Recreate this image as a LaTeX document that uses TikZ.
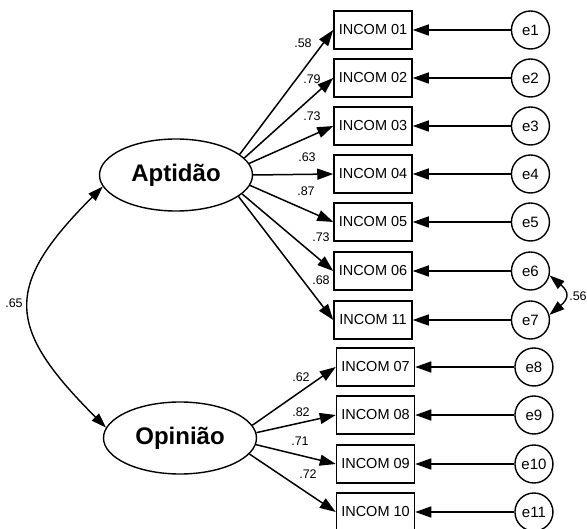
\documentclass[tikz,border=0pt]{standalone}
\usepackage{fontspec}
\setmainfont{Liberation Sans}
\usetikzlibrary{positioning,arrows.meta,shapes.geometric}
\tikzset{
  item/.style   = {rectangle, draw, line width=1.5pt,
                   minimum width=78pt, minimum height=38pt, inner sep=0pt,
                   font=\fontsize{14.5}{16}\selectfont},
  err/.style    = {circle, draw, line width=1.4pt,
                   minimum size=38pt, inner sep=0pt,
                   font=\fontsize{15}{16}\selectfont},
  factor/.style = {ellipse, draw, line width=1.4pt,
                   minimum width=153pt, minimum height=72pt,
                   font=\bfseries\fontsize{24}{26}\selectfont},
  arr/.style    = {-{Triangle[length=16pt,width=11pt]}, line width=1.5pt},
  dbl/.style    = {{Triangle[length=15pt,width=10pt]}-{Triangle[length=15pt,width=10pt]},
                   line width=1.4pt},
  lab/.style    = {font=\fontsize{12.5}{14}\selectfont, inner sep=0pt}
}

\begin{document}
\begin{tikzpicture}[x=1pt, y=-1pt]
    \useasboundingbox (0,0) rectangle (587,529);
    % Faktoren
    \node[factor] (apt) at (176,175) {Aptidão};
    \node[factor] (opi) at (180,438) {Opinião};
    % Indikatoren
    \node[item] (i01) at (373,30)  {INCOM 01};
    \node[item] (i02) at (373,78)  {INCOM 02};
    \node[item] (i03) at (373,126) {INCOM 03};
    \node[item] (i04) at (373,174) {INCOM 04};
    \node[item] (i05) at (373,222) {INCOM 05};
    \node[item] (i06) at (373,271) {INCOM 06};
    \node[item] (i11) at (373,320) {INCOM 11};
    \node[item] (i07) at (375.5,367) {INCOM 07};
    \node[item] (i08) at (375.5,415) {INCOM 08};
    \node[item] (i09) at (375.5,464) {INCOM 09};
    \node[item] (i10) at (375.5,512) {INCOM 10};
    % Fehlerterme
    \node[err, right=98pt of i01] (e1)  {e1};
    \node[err, right=98pt of i02] (e2)  {e2};
    \node[err, right=98pt of i03] (e3)  {e3};
    \node[err, right=98pt of i04] (e4)  {e4};
    \node[err, right=98pt of i05] (e5)  {e5};
    \node[err, right=98pt of i06] (e6)  {e6};
    \node[err, right=98pt of i11] (e7)  {e7};
    \node[err, right=99pt of i07] (e8)  {e8};
    \node[err, right=99pt of i08] (e9)  {e9};
    \node[err, right=99pt of i09] (e10) {e10};
    \node[err, right=99pt of i10] (e11) {e11};
    % Ladungen
    \draw[arr] (apt.18)  -- (i01.west); \node[lab] at (303,43)  {.58};
    \draw[arr] (apt.14)  -- (i02.west); \node[lab] at (312,79)  {.79};
    \draw[arr] (apt.9)   -- (i03.west); \node[lab] at (312,116) {.73};
    \draw[arr] (apt.0)   -- (i04.west); \node[lab] at (307,157) {.63};
    \draw[arr] (apt.-8)  -- (i05.west); \node[lab] at (306,191) {.87};
    \draw[arr] (apt.-16) -- (i06.west); \node[lab] at (321,237) {.73};
    \draw[arr] (apt.-19) -- (i11.west); \node[lab] at (321,280) {.68};
    \draw[arr] (opi.10)  -- (i07.west); \node[lab] at (301,377) {.62};
    \draw[arr] (opi.4)   -- (i08.west); \node[lab] at (301,412) {.82};
    \draw[arr] (opi.-5)  -- (i09.west); \node[lab] at (300,441) {.71};
    \draw[arr] (opi.-13) -- (i10.west); \node[lab] at (308,474) {.72};
    % Fehler -> Indikatoren
    \draw[arr] (e1)  -- (i01);
    \draw[arr] (e2)  -- (i02);
    \draw[arr] (e3)  -- (i03);
    \draw[arr] (e4)  -- (i04);
    \draw[arr] (e5)  -- (i05);
    \draw[arr] (e6)  -- (i06);
    \draw[arr] (e7)  -- (i11);
    \draw[arr] (e8)  -- (i07);
    \draw[arr] (e9)  -- (i08);
    \draw[arr] (e10) -- (i09);
    \draw[arr] (e11) -- (i10);
    % Kovarianzen
    \draw[dbl] (apt.189) to[out=225, in=135, looseness=1.5] (opi.172);
    \node[lab] at (14,303) {.65};
    \draw[dbl] (e6.-13) to[out=-40, in=40, looseness=1.65] (e7.15);
    \node[lab] at (578,296) {.56};
\end{tikzpicture}
\end{document}
